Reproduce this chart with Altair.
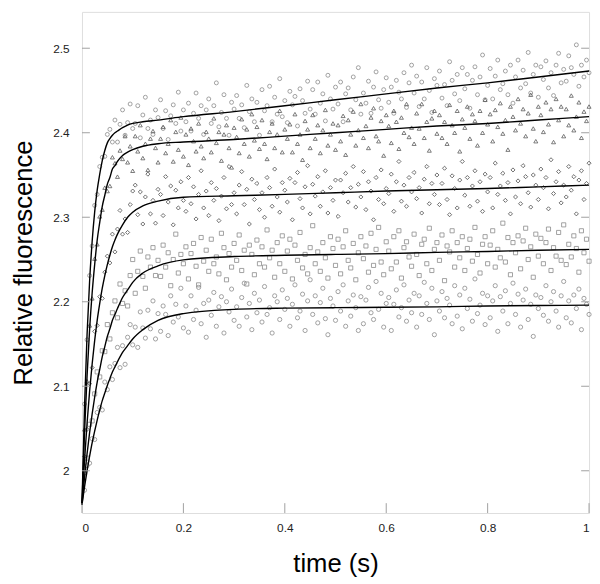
import altair as alt
import pandas as pd

# ---------------- data ----------------
# sample times: one sample every 5 ms, 200 samples per trace
times = [round(0.005 * i, 3) for i in range(1, 201)]

trace_a = [  # top trace, open circles
    2.079, 2.155, 2.231, 2.266, 2.314, 2.327, 2.360, 2.371, 2.372, 2.398,
    2.404, 2.389, 2.415, 2.389, 2.410, 2.427, 2.397, 2.412, 2.434, 2.405,
    2.411, 2.432, 2.394, 2.421, 2.442, 2.405, 2.415, 2.398, 2.427, 2.418,
    2.439, 2.405, 2.426, 2.392, 2.420, 2.433, 2.411, 2.448, 2.402, 2.427,
    2.413, 2.435, 2.402, 2.423, 2.447, 2.417, 2.432, 2.398, 2.427, 2.440,
    2.411, 2.432, 2.459, 2.407, 2.424, 2.445, 2.417, 2.397, 2.436, 2.428,
    2.444, 2.417, 2.433, 2.406, 2.456, 2.425, 2.440, 2.413, 2.436, 2.397,
    2.451, 2.426, 2.432, 2.455, 2.413, 2.442, 2.422, 2.464, 2.419, 2.438,
    2.412, 2.449, 2.433, 2.443, 2.408, 2.452, 2.438, 2.423, 2.461, 2.428,
    2.451, 2.422, 2.460, 2.435, 2.446, 2.414, 2.468, 2.440, 2.428, 2.454,
    2.434, 2.460, 2.413, 2.446, 2.453, 2.427, 2.466, 2.439, 2.477, 2.422,
    2.447, 2.435, 2.461, 2.423, 2.454, 2.472, 2.439, 2.429, 2.451, 2.465,
    2.436, 2.454, 2.423, 2.462, 2.448, 2.440, 2.471, 2.430, 2.459, 2.480,
    2.447, 2.467, 2.431, 2.460, 2.440, 2.477, 2.450, 2.424, 2.464, 2.456,
    2.473, 2.441, 2.457, 2.432, 2.484, 2.462, 2.446, 2.469, 2.438, 2.477,
    2.452, 2.469, 2.429, 2.462, 2.478, 2.445, 2.466, 2.492, 2.439, 2.456,
    2.476, 2.440, 2.467, 2.486, 2.451, 2.458, 2.473, 2.445, 2.480, 2.435,
    2.466, 2.486, 2.453, 2.474, 2.458, 2.495, 2.447, 2.469, 2.480, 2.442,
    2.478, 2.463, 2.485, 2.453, 2.471, 2.444, 2.480, 2.494, 2.459, 2.475,
    2.461, 2.491, 2.477, 2.469, 2.504, 2.455, 2.480, 2.466, 2.486, 2.471,
]

trace_b = [  # second trace, open triangles
    2.049, 2.106, 2.172, 2.204, 2.251, 2.268, 2.301, 2.309, 2.335, 2.331,
    2.337, 2.371, 2.364, 2.348, 2.379, 2.369, 2.396, 2.365, 2.384, 2.355,
    2.396, 2.378, 2.409, 2.370, 2.387, 2.356, 2.393, 2.402, 2.382, 2.365,
    2.393, 2.407, 2.376, 2.387, 2.415, 2.366, 2.401, 2.380, 2.418, 2.372,
    2.398, 2.362, 2.405, 2.390, 2.378, 2.411, 2.384, 2.370, 2.401, 2.393,
    2.377, 2.417, 2.388, 2.401, 2.367, 2.398, 2.409, 2.382, 2.359, 2.406,
    2.395, 2.376, 2.416, 2.387, 2.404, 2.372, 2.422, 2.391, 2.407, 2.381,
    2.415, 2.387, 2.369, 2.401, 2.411, 2.382, 2.398, 2.426, 2.377, 2.404,
    2.393, 2.410, 2.377, 2.422, 2.387, 2.398, 2.368, 2.414, 2.404, 2.382,
    2.421, 2.393, 2.409, 2.376, 2.403, 2.427, 2.385, 2.398, 2.411, 2.380,
    2.409, 2.390, 2.420, 2.374, 2.415, 2.398, 2.425, 2.385, 2.403, 2.434,
    2.394, 2.408, 2.382, 2.418, 2.429, 2.396, 2.390, 2.414, 2.373, 2.421,
    2.408, 2.388, 2.426, 2.413, 2.381, 2.418, 2.400, 2.434, 2.395, 2.406,
    2.387, 2.423, 2.405, 2.434, 2.394, 2.413, 2.379, 2.417, 2.426, 2.399,
    2.421, 2.394, 2.413, 2.387, 2.433, 2.409, 2.400, 2.426, 2.378, 2.416,
    2.406, 2.431, 2.393, 2.422, 2.414, 2.385, 2.426, 2.400, 2.439, 2.410,
    2.422, 2.390, 2.427, 2.407, 2.435, 2.399, 2.415, 2.380, 2.431, 2.419,
    2.403, 2.440, 2.411, 2.428, 2.396, 2.423, 2.445, 2.405, 2.390, 2.431,
    2.421, 2.401, 2.436, 2.410, 2.428, 2.389, 2.440, 2.415, 2.431, 2.396,
    2.428, 2.409, 2.444, 2.403, 2.419, 2.436, 2.394, 2.425, 2.414, 2.431,
]

trace_c = [  # third trace, open diamonds
    2.017, 2.049, 2.103, 2.122, 2.165, 2.172, 2.206, 2.204, 2.235, 2.254,
    2.246, 2.280, 2.259, 2.286, 2.308, 2.280, 2.298, 2.282, 2.315, 2.331,
    2.338, 2.303, 2.330, 2.292, 2.324, 2.351, 2.304, 2.320, 2.293, 2.333,
    2.327, 2.302, 2.348, 2.318, 2.337, 2.291, 2.332, 2.311, 2.342, 2.320,
    2.307, 2.347, 2.316, 2.336, 2.298, 2.327, 2.355, 2.311, 2.331, 2.302,
    2.341, 2.320, 2.334, 2.296, 2.325, 2.347, 2.310, 2.360, 2.315, 2.329,
    2.304, 2.338, 2.354, 2.315, 2.333, 2.292, 2.345, 2.321, 2.340, 2.309,
    2.329, 2.300, 2.347, 2.335, 2.313, 2.357, 2.324, 2.306, 2.341, 2.332,
    2.318, 2.346, 2.297, 2.341, 2.353, 2.322, 2.311, 2.336, 2.361, 2.304,
    2.339, 2.325, 2.348, 2.313, 2.330, 2.355, 2.305, 2.335, 2.320, 2.344,
    2.301, 2.344, 2.329, 2.352, 2.318, 2.335, 2.360, 2.312, 2.339, 2.324,
    2.354, 2.309, 2.342, 2.331, 2.297, 2.347, 2.321, 2.356, 2.316, 2.334,
    2.328, 2.351, 2.307, 2.342, 2.366, 2.319, 2.338, 2.313, 2.347, 2.330,
    2.353, 2.322, 2.335, 2.305, 2.345, 2.360, 2.316, 2.340, 2.327, 2.350,
    2.315, 2.340, 2.358, 2.321, 2.303, 2.349, 2.334, 2.311, 2.344, 2.366,
    2.326, 2.347, 2.313, 2.337, 2.355, 2.319, 2.342, 2.307, 2.351, 2.330,
    2.347, 2.311, 2.364, 2.327, 2.337, 2.352, 2.320, 2.341, 2.304, 2.356,
    2.324, 2.343, 2.316, 2.361, 2.348, 2.329, 2.312, 2.350, 2.338, 2.321,
    2.357, 2.335, 2.347, 2.310, 2.368, 2.328, 2.342, 2.354, 2.317, 2.338,
    2.324, 2.360, 2.332, 2.348, 2.304, 2.344, 2.355, 2.321, 2.340, 2.364,
]

trace_d = [  # fourth trace, open squares
    1.998, 2.015, 2.055, 2.059, 2.091, 2.117, 2.111, 2.142, 2.141, 2.173,
    2.156, 2.187, 2.201, 2.181, 2.221, 2.198, 2.213, 2.195, 2.231, 2.250,
    2.210, 2.236, 2.260, 2.230, 2.216, 2.253, 2.241, 2.264, 2.231, 2.249,
    2.230, 2.267, 2.241, 2.258, 2.219, 2.250, 2.280, 2.234, 2.256, 2.245,
    2.265, 2.227, 2.257, 2.269, 2.242, 2.220, 2.276, 2.248, 2.261, 2.236,
    2.274, 2.245, 2.253, 2.233, 2.281, 2.264, 2.226, 2.257, 2.241, 2.269,
    2.249, 2.279, 2.237, 2.261, 2.221, 2.267, 2.256, 2.232, 2.273, 2.245,
    2.265, 2.241, 2.285, 2.252, 2.261, 2.229, 2.270, 2.245, 2.278, 2.236,
    2.260, 2.274, 2.227, 2.267, 2.249, 2.282, 2.240, 2.256, 2.233, 2.264,
    2.290, 2.245, 2.259, 2.236, 2.270, 2.252, 2.228, 2.277, 2.263, 2.243,
    2.274, 2.233, 2.265, 2.284, 2.249, 2.240, 2.269, 2.226, 2.258, 2.277,
    2.251, 2.266, 2.235, 2.281, 2.243, 2.262, 2.288, 2.247, 2.232, 2.271,
    2.260, 2.239, 2.277, 2.247, 2.284, 2.228, 2.264, 2.271, 2.253, 2.242,
    2.280, 2.256, 2.231, 2.268, 2.274, 2.245, 2.287, 2.237, 2.262, 2.270,
    2.249, 2.279, 2.225, 2.266, 2.259, 2.284, 2.241, 2.270, 2.252, 2.277,
    2.237, 2.263, 2.274, 2.248, 2.288, 2.256, 2.234, 2.268, 2.277, 2.245,
    2.267, 2.284, 2.241, 2.262, 2.252, 2.293, 2.247, 2.276, 2.232, 2.270,
    2.258, 2.278, 2.239, 2.272, 2.287, 2.250, 2.265, 2.229, 2.280, 2.254,
    2.275, 2.245, 2.270, 2.286, 2.237, 2.264, 2.254, 2.282, 2.249, 2.291,
    2.244, 2.268, 2.253, 2.278, 2.263, 2.235, 2.284, 2.258, 2.274, 2.248,
]

trace_e = [  # bottom trace, open circles
    1.977, 2.006, 2.009, 2.038, 2.037, 2.069, 2.075, 2.072, 2.105, 2.096,
    2.123, 2.108, 2.127, 2.146, 2.122, 2.148, 2.126, 2.158, 2.173, 2.149,
    2.170, 2.146, 2.188, 2.169, 2.157, 2.190, 2.168, 2.201, 2.156, 2.186,
    2.165, 2.195, 2.185, 2.160, 2.207, 2.176, 2.197, 2.182, 2.216, 2.169,
    2.195, 2.164, 2.207, 2.179, 2.190, 2.217, 2.174, 2.198, 2.158, 2.202,
    2.184, 2.211, 2.171, 2.194, 2.206, 2.163, 2.200, 2.188, 2.215, 2.178,
    2.194, 2.171, 2.205, 2.222, 2.182, 2.198, 2.167, 2.210, 2.187, 2.202,
    2.176, 2.218, 2.185, 2.193, 2.163, 2.207, 2.200, 2.179, 2.214, 2.191,
    2.204, 2.171, 2.197, 2.220, 2.181, 2.189, 2.209, 2.166, 2.201, 2.226,
    2.185, 2.207, 2.175, 2.199, 2.216, 2.180, 2.161, 2.204, 2.195, 2.178,
    2.212, 2.189, 2.220, 2.171, 2.201, 2.183, 2.208, 2.193, 2.166, 2.206,
    2.174, 2.202, 2.217, 2.187, 2.179, 2.224, 2.191, 2.210, 2.170, 2.198,
    2.205, 2.166, 2.197, 2.214, 2.182, 2.193, 2.220, 2.177, 2.202, 2.187,
    2.210, 2.170, 2.207, 2.185, 2.223, 2.198, 2.179, 2.216, 2.161, 2.201,
    2.189, 2.212, 2.181, 2.204, 2.196, 2.174, 2.219, 2.183, 2.208, 2.168,
    2.216, 2.192, 2.203, 2.177, 2.227, 2.186, 2.196, 2.210, 2.173, 2.207,
    2.181, 2.201, 2.219, 2.165, 2.206, 2.189, 2.213, 2.174, 2.198, 2.222,
    2.185, 2.209, 2.170, 2.202, 2.215, 2.179, 2.197, 2.159, 2.208, 2.192,
    2.205, 2.184, 2.219, 2.177, 2.200, 2.212, 2.189, 2.170, 2.207, 2.224,
    2.181, 2.201, 2.175, 2.208, 2.192, 2.215, 2.167, 2.204, 2.197, 2.185,
]

# fitted curves, read at these times
fit_times = [0, 0.005, 0.01, 0.015, 0.02, 0.025, 0.03, 0.035, 0.04, 0.045,
             0.05, 0.055, 0.06, 0.065, 0.07, 0.08, 0.09, 0.1, 0.12, 0.15,
             0.2, 0.3, 0.4, 0.5, 0.6, 0.7, 0.8, 0.9, 1.0]
fit_a = [1.960, 2.075, 2.161, 2.224, 2.271, 2.306, 2.332, 2.351, 2.367, 2.379,
         2.388, 2.393, 2.397, 2.400, 2.402, 2.406, 2.409, 2.411, 2.413, 2.415,
         2.419, 2.425, 2.432, 2.439, 2.446, 2.453, 2.459, 2.466, 2.473]
fit_b = [1.960, 2.045, 2.112, 2.167, 2.210, 2.244, 2.273, 2.294, 2.313, 2.326,
         2.339, 2.347, 2.357, 2.361, 2.366, 2.373, 2.377, 2.380, 2.384, 2.387,
         2.389, 2.392, 2.396, 2.400, 2.404, 2.408, 2.411, 2.415, 2.419]
fit_c = [1.960, 2.012, 2.056, 2.094, 2.126, 2.154, 2.178, 2.198, 2.216, 2.231,
         2.244, 2.255, 2.265, 2.273, 2.280, 2.291, 2.300, 2.306, 2.3135, 2.319,
         2.3236, 2.3254, 2.327, 2.329, 2.331, 2.3326, 2.334, 2.336, 2.338]
fit_d = [1.960, 1.992, 2.020, 2.045, 2.067, 2.087, 2.105, 2.120, 2.135, 2.147,
         2.159, 2.168, 2.178, 2.185, 2.192, 2.205, 2.214, 2.223, 2.234, 2.2425,
         2.2495, 2.2535, 2.255, 2.256, 2.257, 2.2585, 2.2595, 2.261, 2.262]
fit_e = [1.960, 1.981, 2.000, 2.017, 2.033, 2.047, 2.060, 2.072, 2.083, 2.092,
         2.101, 2.109, 2.117, 2.123, 2.129, 2.140, 2.148, 2.156, 2.167, 2.178,
         2.186, 2.191, 2.1925, 2.193, 2.1935, 2.194, 2.195, 2.1955, 2.196]

series_names = ["a", "b", "c", "d", "e"]
series_shapes = ["circle", "triangle-up", "diamond", "square", "circle"]
series_colors = ["#8a8a8a", "#5a5a5a", "#4a4a4a", "#8a8a8a", "#8a8a8a"]
series_sizes = [16, 18, 16, 20, 16]

x_ticks = [0, 0.2, 0.4, 0.6, 0.8, 1.0]
y_ticks = [2.0, 2.1, 2.2, 2.3, 2.4, 2.5]

# ---------------- build tables ----------------
traces = [trace_a, trace_b, trace_c, trace_d, trace_e]
fits = [fit_a, fit_b, fit_c, fit_d, fit_e]

pts = pd.DataFrame(
    [{"t": t, "v": v, "s": name}
     for name, tr in zip(series_names, traces) for t, v in zip(times, tr)]
)
curves = pd.DataFrame(
    [{"t": t, "v": v, "s": name}
     for name, f in zip(series_names, fits) for t, v in zip(fit_times, f)]
)
xt = pd.DataFrame({"t": x_ticks})
yt = pd.DataFrame({"v": y_ticks})

W, H = 514, 508
FONT = "Liberation Sans, Arial, Helvetica, sans-serif"

xscale = alt.Scale(domain=[0, 1], nice=False, zero=False)
yscale = alt.Scale(domain=[1.95, 2.543], nice=False, zero=False)

xaxis = alt.Axis(
    values=x_ticks, format="~g", ticks=False, tickSize=0, domain=False, grid=False,
    labelFont=FONT, labelFontSize=12, labelColor="#222222", labelPadding=10,
    titleFont=FONT, titleFontSize=26, titleFontWeight="normal", titleColor="#000000",
    titleX=W / 2, titleY=59, titleAlign="center", titleBaseline="alphabetic",
)
yaxis = alt.Axis(
    values=y_ticks, format="~g", ticks=False, tickSize=0, domain=False, grid=False,
    labelFont=FONT, labelFontSize=12, labelColor="#222222", labelPadding=13,
    titleFont=FONT, titleFontSize=26, titleFontWeight="normal", titleColor="#000000",
    titleX=-51, titleY=H / 2, titleAlign="center", titleBaseline="alphabetic",
)

X = alt.X("t:Q", scale=xscale, axis=xaxis, title="time (s)")
Y = alt.Y("v:Q", scale=yscale, axis=yaxis, title="Relative fluorescence")

points = alt.Chart(pts).mark_point(filled=False, strokeWidth=0.8, opacity=1).encode(
    x=X, y=Y,
    shape=alt.Shape("s:N", scale=alt.Scale(domain=series_names, range=series_shapes), legend=None),
    color=alt.Color("s:N", scale=alt.Scale(domain=series_names, range=series_colors), legend=None),
    size=alt.Size("s:N", scale=alt.Scale(domain=series_names, range=series_sizes), legend=None),
)

lines = alt.Chart(curves).mark_line(color="#000000", strokeWidth=1.4, interpolate="monotone").encode(
    x=X, y=Y, detail="s:N"
)

tick_color = "#a0a0a0"
bottom_ticks = alt.Chart(xt).mark_rule(color=tick_color, strokeWidth=1).encode(
    x=X, y=alt.value(H), y2=alt.value(H - 10)
)
left_ticks = alt.Chart(yt).mark_rule(color=tick_color, strokeWidth=1).encode(
    y=Y, x=alt.value(0), x2=alt.value(8)
)
right_ticks = alt.Chart(yt).mark_rule(color=tick_color, strokeWidth=1).encode(
    y=Y, x=alt.value(W), x2=alt.value(W - 8)
)

chart = alt.layer(points, lines, bottom_ticks, left_ticks, right_ticks).properties(
    width=W, height=H,
    autosize=alt.AutoSizeParams(type="none"),
    padding={"left": 75, "top": 0, "right": 3, "bottom": 68},
).configure_view(stroke="#a8a8a8", strokeWidth=1.5).configure(background="white")

chart.save("out.html", embed_options={"renderer": "svg", "actions": False})
